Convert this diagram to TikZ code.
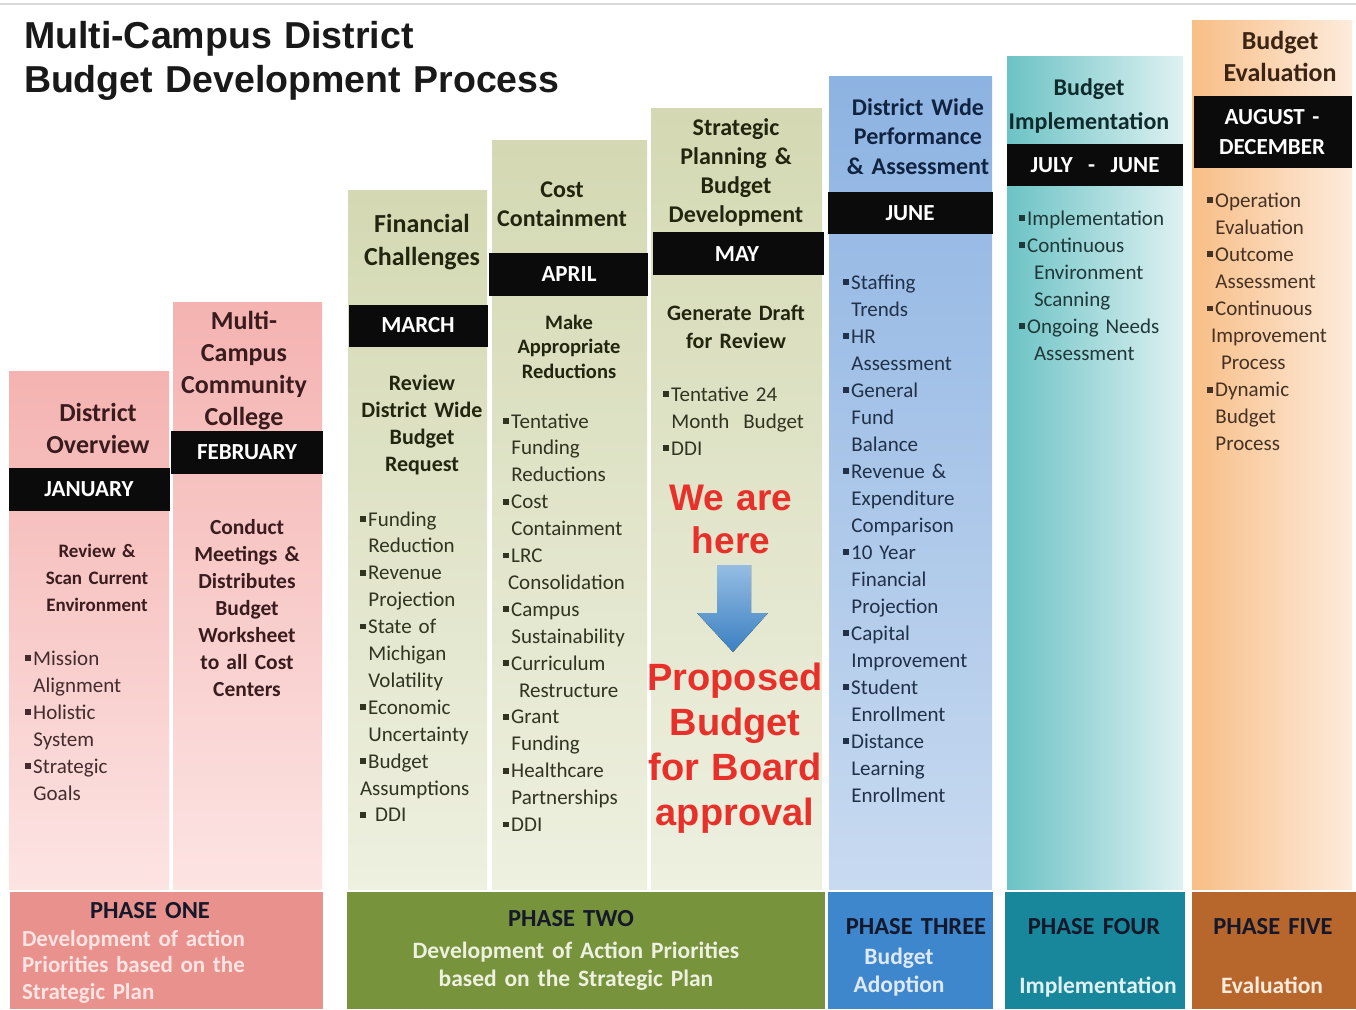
\documentclass[tikz,border=0pt]{standalone}
\usepackage{fontspec}
\setmainfont{Carlito}
\newfontfamily\titlefont{Liberation Sans}
\newcommand\fs[2]{\fontsize{#1}{#2}\selectfont}
\newcommand\bl{\rule[0.2em]{0.27em}{0.27em}\kern0.12em}
\newcommand\ind{\hspace*{0.4em}}
\definecolor{pinkTop}{HTML}{F4B3B1}
\definecolor{pinkBot}{HTML}{FCE4E3}
\definecolor{oliveTop}{HTML}{D4D9B3}
\definecolor{oliveBot}{HTML}{EEF0E0}
\definecolor{blueTop}{HTML}{8DB3E2}
\definecolor{blueBot}{HTML}{C8DAF0}
\definecolor{tealL}{HTML}{6CC3C5}
\definecolor{tealR}{HTML}{DFF1F2}
\definecolor{orgL}{HTML}{F8BE86}
\definecolor{orgR}{HTML}{FDEBDC}
\definecolor{barBlack}{HTML}{0B0B0B}
\definecolor{ph1}{HTML}{E8918D}
\definecolor{ph2}{HTML}{77933C}
\definecolor{ph3}{HTML}{3E87CC}
\definecolor{ph4}{HTML}{18879B}
\definecolor{ph5}{HTML}{B7662C}
\definecolor{hereRed}{HTML}{E8302A}
\definecolor{txPink}{HTML}{3A1C1E}
\definecolor{txOlive}{HTML}{22260F}
\definecolor{txBlue}{HTML}{102340}
\definecolor{txTeal}{HTML}{0F2B2C}
\definecolor{txOrg}{HTML}{3B2414}
\definecolor{phDark}{HTML}{14182A}
\tikzset{
  every node/.style={inner sep=0pt, outer sep=0pt},
  headtxt/.style={anchor=base, align=center, text width=190pt},
  monthtxt/.style={anchor=base, align=center, text width=170pt, text=white, font=\bfseries\fs{23}{30}},
  subtxt/.style={anchor=base, align=center, text width=170pt},
  bullets/.style={anchor=base west, align=left, text width=175pt},
  monthbar/.style={fill=barBlack},
  redtxt/.style={anchor=base, align=center, text width=220pt, text=hereRed},
  phasetitle/.style={anchor=base, align=center, text width=200pt, text=phDark, font=\bfseries\fs{24.5}{30}},
  phasesub/.style={align=center, text width=340pt, font=\bfseries\fs{23.5}{28.5}},
}
\begin{document}
\begin{tikzpicture}[x=1pt, y=-1pt]
\useasboundingbox (0,0) rectangle (1356,1009);
\fill[white] (0,0) rectangle (1356,1009);
\draw[gray!30, line width=1.5pt] (0,4) -- (1356,4);

% ---------- title ----------
\node[anchor=base west, align=left, text width=700pt, text=black!90, font=\titlefont\bfseries\fs{37.5}{44}] (title) at (24,48)
  {Multi-Campus District\\Budget Development Process};

% ---------- columns ----------
\fill[top color=pinkTop, bottom color=pinkBot] (9,371) rectangle (169,889);
\fill[top color=pinkTop, bottom color=pinkBot] (173,302) rectangle (322,889);
\fill[top color=oliveTop, bottom color=oliveBot] (348,190) rectangle (487,889);
\fill[top color=oliveTop, bottom color=oliveBot] (492,140) rectangle (647,889);
\fill[top color=oliveTop, bottom color=oliveBot] (651,108) rectangle (822,889);
\fill[top color=blueTop, bottom color=blueBot] (829,76) rectangle (992,889);
\fill[left color=tealL, right color=tealR] (1007,56) rectangle (1183,889);
\fill[left color=orgL, right color=orgR] (1192,20) rectangle (1352,889);

% ---------- month bars ----------
\fill[monthbar] (9,468) rectangle (170,511);
\fill[monthbar] (171,431) rectangle (323,474);
\fill[monthbar] (349,305) rectangle (488,347);
\fill[monthbar] (489,253) rectangle (648,296);
\fill[monthbar] (653,232) rectangle (824,275);
\fill[monthbar] (828,192) rectangle (993,234);
\fill[monthbar] (1007,144) rectangle (1183,186);
\fill[monthbar] (1194,96) rectangle (1352,168);

% ---------- column 1 ----------
\node[headtxt, text=txPink, font=\bfseries\fs{26}{32}] (h1) at (98,421) {District\\Overview};
\node[monthtxt] (m1) at (89,496) {JANUARY};
\node[subtxt, text=txPink, font=\bfseries\fs{19}{27}] (s1) at (97,557) {Review \&\\Scan Current\\Environment};
\node[bullets, text=txPink!85!gray, font=\fs{21}{27}] (b1) at (25,665)
  {\bl Mission\\\ind Alignment\\\bl Holistic\\\ind System\\\bl Strategic\\\ind Goals};

% ---------- column 2 ----------
\node[headtxt, text=txPink, font=\bfseries\fs{26}{32}] (h2) at (244,329) {Multi-\\Campus\\Community\\College};
\node[monthtxt] (m2) at (247,459) {FEBRUARY};
\node[subtxt, text=txPink, font=\bfseries\fs{21.5}{27}] (s2) at (247,534)
  {Conduct\\Meetings \&\\Distributes\\Budget\\Worksheet\\to all Cost\\Centers};

% ---------- column 3 ----------
\node[headtxt, text=txOlive, font=\bfseries\fs{26}{33}] (h3) at (422,232) {Financial\\Challenges};
\node[monthtxt] (m3) at (418,332) {MARCH};
\node[subtxt, text=txOlive, font=\bfseries\fs{22}{27}] (s3) at (422,390) {Review\\District Wide\\Budget\\Request};
\node[bullets, text=txOlive!85!gray, font=\fs{21}{26.9}] (b3) at (360,526)
  {\bl Funding\\\ind Reduction\\\bl Revenue\\\ind Projection\\\bl State of\\\ind Michigan\\\ind Volatility\\\bl Economic\\\ind Uncertainty\\\bl Budget\\Assumptions\\\bl\ DDI};

% ---------- column 4 ----------
\node[headtxt, text=txOlive, font=\bfseries\fs{24}{29}] (h4) at (562,197) {Cost\\Containment};
\node[monthtxt] (m4) at (569,281) {APRIL};
\node[subtxt, text=txOlive, font=\bfseries\fs{20.5}{24.5}] (s4) at (569,329) {Make\\Appropriate\\Reductions};
\node[bullets, text=txOlive!85!gray, font=\fs{21}{26.9}] (b4) at (503,428)
  {\bl Tentative\\\ind Funding\\\ind Reductions\\\bl Cost\\\ind Containment\\\bl LRC\\\hspace*{5pt}Consolidation\\\bl Campus\\\ind Sustainability\\\bl Curriculum\\\hspace*{16pt}Restructure\\\bl Grant\\\ind Funding\\\bl Healthcare\\\ind Partnerships\\\bl DDI};

% ---------- column 5 ----------
\node[headtxt, text=txOlive, font=\bfseries\fs{24}{29.3}] (h5) at (736,135) {Strategic\\Planning \&\\Budget\\Development};
\node[monthtxt] (m5) at (737,261) {MAY};
\node[subtxt, text=txOlive, font=\bfseries\fs{22}{28}] (s5) at (736,320) {Generate Draft\\for Review};
\node[bullets, text=txOlive!85!gray, font=\fs{21}{27}] (b5) at (663,401)
  {\bl Tentative 24\\\ind Month\ \ Budget\\\bl DDI};
\node[redtxt, font=\titlefont\bfseries\fs{37}{43}] (here) at (731,510) {We are\\here};
\fill[top color=ph3!55!white, bottom color=ph3!95!black]
  (717,565) -- (751,565) -- (751,613) -- (768,613) -- (733,652) -- (697,613) -- (717,613) -- cycle;
\node[redtxt, font=\titlefont\bfseries\fs{38}{45}] (prop) at (735,690) {Proposed\\Budget\\for Board\\approval};

% ---------- column 6 ----------
\node[headtxt, text=txBlue, font=\bfseries\fs{24}{29.5}] (h6) at (918,115) {District Wide\\Performance\\\& Assessment};
\node[monthtxt] (m6) at (910,220) {JUNE};
\node[bullets, text=txBlue!85!gray, font=\fs{21}{27}] (b6) at (843,289)
  {\bl Staffing\\\ind Trends\\\bl HR\\\ind Assessment\\\bl General\\\ind Fund\\\ind Balance\\\bl Revenue \&\\\ind Expenditure\\\ind Comparison\\\bl 10 Year\\\ind Financial\\\ind Projection\\\bl Capital\\\ind Improvement\\\bl Student\\\ind Enrollment\\\bl Distance\\\ind Learning\\\ind Enrollment};

% ---------- column 7 ----------
\node[headtxt, text=txTeal, font=\bfseries\fs{24}{34}] (h7) at (1089,95) {Budget\\Implementation};
\node[monthtxt] (m7) at (1095,172) {JULY\ \ -\ \ JUNE};
\node[bullets, text=txTeal!85!gray, font=\fs{21}{27}] (b7) at (1019,225)
  {\bl Implementation\\\bl Continuous\\\hspace*{15pt}Environment\\\hspace*{15pt}Scanning\\\bl Ongoing Needs\\\hspace*{15pt}Assessment};

% ---------- column 8 ----------
\node[headtxt, text=txOrg, font=\bfseries\fs{26}{32}] (h8) at (1280,49) {Budget\\Evaluation};
\node[monthtxt, font=\bfseries\fs{23}{30}] (m8) at (1272,124) {AUGUST -\\DECEMBER};
\node[bullets, text=txOrg!85!gray, font=\fs{21}{27.1}] (b8) at (1207,207)
  {\bl Operation\\\ind Evaluation\\\bl Outcome\\\ind Assessment\\\bl Continuous\\\hspace*{4pt}Improvement\\\hspace*{14pt}Process\\\bl Dynamic\\\ind Budget\\\ind Process};

% ---------- phase bars ----------
\fill[ph1] (10,892) rectangle (323,1009);
\fill[ph2] (347,892) rectangle (825,1009);
\fill[ph3] (828,892) rectangle (993,1009);
\fill[ph4] (1005,892) rectangle (1185,1009);
\fill[ph5] (1192,892) rectangle (1356,1009);

\node[phasetitle] (p1) at (150,918) {PHASE ONE};
\node[phasesub, anchor=base west, align=left, text=pinkBot, font=\bfseries\fs{23}{26.5}] (p1s) at (22,946)
  {Development of action\\Priorities based on the\\Strategic Plan};
\node[phasetitle] (p2) at (571,926) {PHASE TWO};
\node[phasesub, anchor=base, text=oliveBot] (p2s) at (576,958)
  {Development of Action Priorities\\based on the Strategic Plan};
\node[phasetitle] (p3) at (916,934) {PHASE THREE};
\node[phasesub, anchor=base, text=blueBot!60!white] (p3s) at (899,964) {Budget\\Adoption};
\node[phasetitle] (p4) at (1094,934) {PHASE FOUR};
\node[phasesub, anchor=base, text=tealR] (p4s) at (1098,993) {Implementation};
\node[phasetitle] (p5) at (1273,934) {PHASE FIVE};
\node[phasesub, anchor=base, text=orgR] (p5s) at (1272,993) {Evaluation};
\end{tikzpicture}
\end{document}
